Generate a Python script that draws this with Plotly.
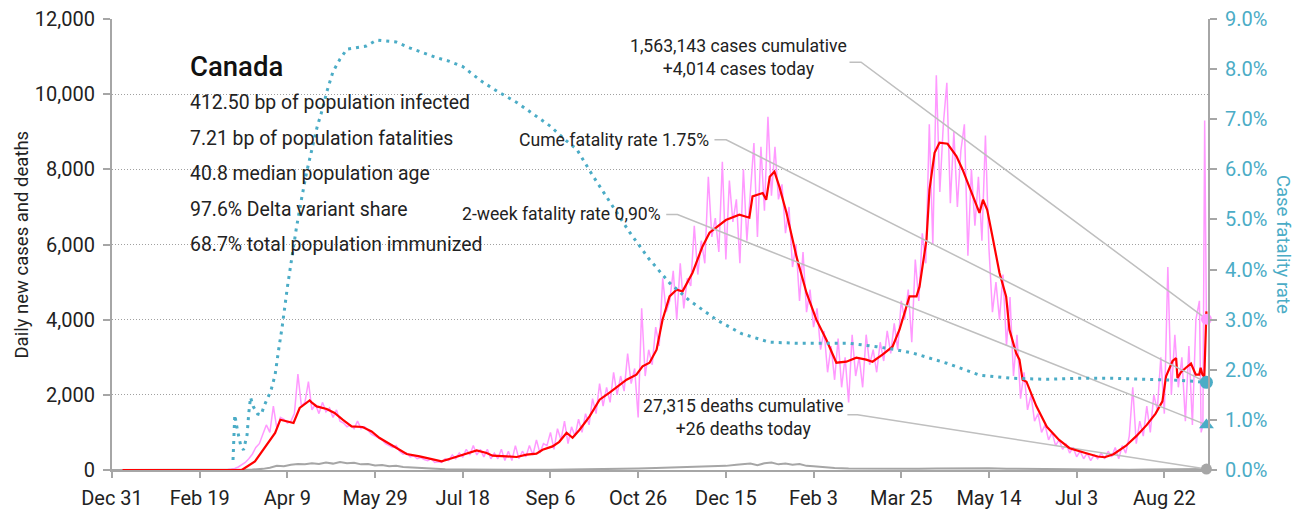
import pandas as pd
import plotly.graph_objects as go

# ---------------------------------------------------------------------------
# Data (days counted from 2019-12-31)
# ---------------------------------------------------------------------------
DAY0 = pd.Timestamp("2019-12-31")

# Daily new cases, every second day, then the last four days individually
case_days = list(range(0, 621, 2)) + [621, 622, 623, 624]
daily_cases = [
    0, 0, 0, 0, 0, 0, 0, 0, 0, 0, 0, 0, 0, 1, 0, 0, 0, 0, 1, 0, 0, 0, 0, 0, 0, 0, 1, 2, 1, 3,
    4, 6, 10, 15, 25, 40, 80, 130, 200, 300, 420, 600, 700, 950, 1200, 1000, 1700, 1100, 1400, 1350,
    1250, 1300, 1500, 2550, 1700, 1800, 2350, 1600, 1750, 1500,
    1800, 1550, 1650, 1400, 1600, 1300, 1250, 1150, 1200, 1100,
    1300, 1100, 1150, 1050, 950, 900, 850, 800, 700, 650,
    600, 650, 500, 420, 450, 350, 380, 300, 330, 280,
    250, 300, 200, 220, 200, 300, 250, 400, 300, 450,
    350, 550, 400, 650, 400, 550, 350, 550, 300, 450,
    300, 550, 250, 500, 250, 650, 300, 500, 350, 650,
    400, 800, 450, 700, 650, 1000, 550, 1100, 800, 1300,
    700, 1150, 900, 1350, 1000, 1500, 1200, 1900, 1500, 2300,
    1700, 2200, 1800, 2600, 2000, 2500, 2100, 3100, 2300, 2700,
    1400, 4300, 2500, 3200, 2800, 3800, 3300, 5100, 4200, 4500,
    5300, 4000, 5500, 4300, 5100, 4900, 6500, 5200, 6100, 5500,
    7800, 6200, 6700, 5800, 8200, 5600, 7700, 6600, 7200, 5500,
    8000, 6100, 7500, 8700, 6200, 8600, 6900, 9400, 7300, 8600,
    7200, 7600, 6300, 7000, 5400, 6000, 4500, 5800, 4200, 4800,
    3800, 4300, 3200, 3700, 2600, 3300, 2400, 3500, 2200, 3000,
    1800, 3600, 2500, 3000, 2200, 3600, 2800, 3200, 2600, 3400,
    2900, 3700, 3100, 3900, 3200, 4500, 4000, 4800, 3400, 5600,
    4500, 6300, 5500, 9200, 6000, 10500, 7400, 9200, 10300, 7100,
    9000, 7000, 8500, 9200, 5700, 8000, 6500, 7800, 6100, 8900,
    5900, 4200, 5000, 4000, 5200, 3300, 4600, 2500, 3600, 1900,
    2600, 1600, 2000, 1300, 1500, 1000, 1200, 800, 1000, 650,
    800, 550, 700, 450, 600, 350, 500, 300, 450, 250,
    400, 300, 450, 300, 500, 350, 600, 300, 650, 450,
    900, 2200, 700, 1300, 900, 1700, 1000, 2000, 1600, 3000,
    1500, 5400, 2000, 3600, 2200, 3000, 1300, 3300, 1200, 4000,
    4500, 1000, 1200, 9300, 4014,
]

# 7-day average of new cases
avg_days = [
    6, 74, 81.5, 87, 93, 96, 100.5, 103.5, 107, 112.7, 113.8, 116.7, 122.4, 126.9, 131.5,
    136.6, 142.9, 148, 152.6, 160, 168, 175.4, 182.8, 187.9, 194.2, 202.2, 207.9, 213.6,
    217, 225, 230.7, 236.4, 242, 245.5, 251.2, 255, 259.2, 262.6, 266.6, 272.3, 278, 283.7,
    289.4, 293.4, 299, 302.5, 306.5, 310.5, 313.9, 317.9, 321.9, 325.3, 331, 336.7, 340.7,
    346.4, 350, 357.7, 363.4, 365.2, 371, 373, 375, 377.7, 380.5, 384.6, 390.3, 396, 401.6,
    407.3, 413, 418.7, 424.4, 430, 433.6, 439.3, 445, 449, 454.7, 458.7, 460.4, 464.4,
    466.1, 469, 471.8, 476.4, 481.5, 485, 487.2, 490.7, 494.6, 496.6, 499, 502, 506, 509.8,
    511.7, 515.5, 517.4, 519.2, 521.4, 527, 533, 540, 546, 556, 562, 566, 571, 578, 584,
    590, 595, 598.9, 601, 604.7, 606.7, 607.5, 609.5, 612.3, 615.2, 617.9, 619.9, 620.7,
    621.7, 622.8, 624,
]
avg_cases = [
    0, 0, 229, 585, 985, 1338, 1293, 1250, 1650, 1852, 1800, 1692, 1623, 1516, 1338,
    1160, 1144, 1027, 852, 647, 426, 362, 274, 229, 319, 434, 522, 452,
    381, 362, 346, 407, 434, 540, 628, 750, 992, 859, 1072, 1426, 1871, 2057,
    2270, 2403, 2536, 2757, 2855, 3201, 4000, 4620, 4798, 4753, 5250, 5950, 6314,
    6527, 6650, 6793, 6713, 7281, 7370, 7190, 7800, 7940, 7540, 6840, 5670, 4710, 4000,
    3467, 2855, 2882, 2990, 2935, 2882, 3068, 3280, 3733, 4620, 4620, 4878, 6130,
    7460, 8440, 8710, 8680, 8345, 7990, 7725, 7280, 6840, 7190, 6925, 6215, 5250, 4620,
    3730, 3110, 2935, 2400, 2350, 1700, 1150, 800, 580, 440, 360, 340, 420, 640, 900,
    1200, 1500, 1826, 2490, 2900, 2980, 2450, 2600, 2720, 2830, 2540, 2540, 2720,
    2540, 2480, 4220,
]

# Daily deaths
death_days = [
    0, 60, 72, 80, 86, 90, 94, 98, 102, 106, 110, 114, 118, 122, 126, 130, 134, 138, 142,
    146, 150, 154, 158, 162, 166, 170, 174, 178, 184, 190, 200, 210, 220, 230, 240, 250,
    260, 270, 280, 290, 300, 310, 320, 330, 340, 346, 350, 356, 360, 364, 368, 372, 376,
    380, 384, 388, 392, 396, 400, 404, 408, 412, 420, 430, 440, 450, 460, 470, 480, 490,
    500, 510, 520, 530, 540, 550, 560, 570, 580, 590, 600, 610, 618, 624,
]
daily_deaths = [
    0, 0, 2, 10, 30, 60, 110, 100, 140, 160, 150, 180, 160, 200, 170, 210, 180, 190, 150,
    160, 120, 130, 100, 110, 80, 70, 50, 45, 30, 20, 12, 8, 6, 5, 6, 8,
    10, 15, 22, 30, 40, 55, 70, 90, 100, 120, 110, 140, 150, 170, 130, 180, 200,
    150, 170, 140, 160, 110, 100, 80, 70, 50, 40, 35, 30, 30, 35, 40, 45, 40,
    45, 35, 30, 20, 15, 10, 6, 5, 8, 12, 20, 25, 30, 26,
]

# Case fatality rate (%)
cfr_days = [
    69, 70, 71.5, 73.5, 75, 77, 78, 79, 80.5, 83, 85, 87, 90.5, 93, 95, 97, 100, 102.5,
    105, 108, 111, 114, 117, 120, 122.5, 126, 130, 134, 141, 145, 151, 157, 162, 170,
    177, 185, 192, 200, 211, 220, 231, 240, 250, 258, 265, 274, 284, 295, 306, 318, 329,
    345, 359, 375, 390, 405, 420, 436, 447, 457, 476, 495, 513, 533, 551, 570, 590, 609,
    624,
]
cfr_pct = [
    0.2, 1.1, 0.8, 0.47, 0.4, 0.7, 1.14, 1.45, 1.27, 1.12, 1.1, 1.3, 1.57, 1.9, 2.4,
    2.85, 3.65, 4.25, 4.8, 5.4, 5.95, 6.4, 6.85, 7.2, 7.55, 7.95, 8.2, 8.4, 8.43, 8.46,
    8.58, 8.55, 8.54, 8.42, 8.33, 8.23, 8.16, 8.05, 7.75, 7.55, 7.33, 7.1, 6.86, 6.6,
    6.4, 5.88, 5.33, 4.75, 4.22, 3.73, 3.39, 2.99, 2.72, 2.55, 2.53, 2.53, 2.53, 2.46,
    2.4, 2.33, 2.13, 1.89, 1.83, 1.81, 1.83, 1.83, 1.81, 1.79, 1.75,
]

cases_today = 4014
deaths_today = 26
cume_fatality = 1.75
two_week_fatality = 0.90

tick_dates = [
    "2019-12-31", "2020-02-19", "2020-04-09", "2020-05-29", "2020-07-18", "2020-09-06",
    "2020-10-26", "2020-12-15", "2021-02-03", "2021-03-25", "2021-05-14", "2021-07-03",
    "2021-08-22",
]
tick_labels = [
    "Dec 31", "Feb 19", "Apr 9", "May 29", "Jul 18", "Sep 6", "Oct 26", "Dec 15",
    "Feb 3", "Mar 25", "May 14", "Jul 3", "Aug 22",
]

info_title = "Canada"
info_lines = [
    "412.50 bp of population infected",
    "7.21 bp of population fatalities",
    "40.8 median population age",
    "97.6% Delta variant share",
    "68.7% total population immunized",
]


def to_date(days):
    return [DAY0 + pd.Timedelta(days=float(d)) for d in days]


FONT = "Roboto, sans-serif"
PINK = "#ff99ff"
RED = "#ff0000"
CYAN = "#4bacc6"
GREY = "#a6a6a6"
LEADER = "#bfbfbf"

last_day = case_days[-1]
last_date = DAY0 + pd.Timedelta(days=last_day)

fig = go.Figure()

fig.add_trace(go.Scatter(x=to_date(case_days), y=daily_cases, mode="lines",
                         line=dict(color=PINK, width=1.5), hoverinfo="skip"))
fig.add_trace(go.Scatter(x=to_date(death_days), y=daily_deaths, mode="lines",
                         line=dict(color=GREY, width=2), hoverinfo="skip"))


# Leader lines from the call-out labels to the latest values
def leader(start_day, start_val, knee_day, end_val, axis):
    fig.add_trace(go.Scatter(
        x=to_date([start_day, knee_day, last_day]),
        y=[start_val, start_val, end_val], mode="lines", yaxis=axis,
        line=dict(color=LEADER, width=1.5), hoverinfo="skip"))


leader(420.5, 10850, 427.1, cases_today, "y")
leader(343.5, 6.59, 350.2, cume_fatality, "y2")
leader(316.0, 5.10, 322.4, two_week_fatality, "y2")
leader(419.3, 1471, 425.0, deaths_today, "y")

fig.add_trace(go.Scatter(x=to_date(avg_days), y=avg_cases, mode="lines",
                         line=dict(color=RED, width=2.2), hoverinfo="skip"))
fig.add_trace(go.Scatter(x=to_date(cfr_days), y=cfr_pct, mode="lines", yaxis="y2",
                         line=dict(color=CYAN, width=3, dash="3px,5px"), hoverinfo="skip"))

# End-point markers
fig.add_trace(go.Scatter(x=[last_date], y=[cases_today], mode="markers", cliponaxis=False,
                         marker=dict(color=PINK, size=11), hoverinfo="skip"))
fig.add_trace(go.Scatter(x=[last_date], y=[deaths_today], mode="markers", cliponaxis=False,
                         marker=dict(color=GREY, size=11), hoverinfo="skip"))
fig.add_trace(go.Scatter(x=[last_date], y=[cume_fatality], mode="markers", yaxis="y2",
                         cliponaxis=False, marker=dict(color=CYAN, size=13),
                         hoverinfo="skip"))
fig.add_trace(go.Scatter(x=[last_date], y=[two_week_fatality], mode="markers", yaxis="y2",
                         cliponaxis=False,
                         marker=dict(color=CYAN, size=13, symbol="triangle-up"),
                         hoverinfo="skip"))

annotations = []
annotations.append(dict(xref="paper", yref="paper", x=0.069, y=0.894, xanchor="left",
                        yanchor="middle", text=info_title, showarrow=False,
                        font=dict(family=FONT, size=27.5, color="#111", weight=500)))
for i, line in enumerate(info_lines):
    annotations.append(dict(xref="paper", yref="paper", x=0.069, y=0.814 - i * 0.0785,
                            xanchor="left", yanchor="middle", text=line, showarrow=False,
                            font=dict(family=FONT, size=19.4, color="#222")))

note_font = dict(family=FONT, size=17.6, color="#222")
annotations += [
    dict(x=DAY0 + pd.Timedelta(days=357), y=10970, xref="x", yref="y",
         text="1,563,143 cases cumulative<br>+4,014 cases today", showarrow=False,
         xanchor="center", yanchor="middle", align="center", font=note_font),
    dict(x=DAY0 + pd.Timedelta(days=341.7), y=6.59, xref="x", yref="y2",
         text="Cume fatality rate 1.75%", showarrow=False, xanchor="right",
         yanchor="middle", font=note_font),
    dict(x=DAY0 + pd.Timedelta(days=314.4), y=5.10, xref="x", yref="y2",
         text="2-week fatality rate 0,90%", showarrow=False, xanchor="right",
         yanchor="middle", font=note_font),
    dict(x=DAY0 + pd.Timedelta(days=360), y=1400, xref="x", yref="y",
         text="27,315 deaths cumulative<br>+26 deaths today", showarrow=False,
         xanchor="center", yanchor="middle", align="center", font=note_font),
    dict(xref="paper", yref="paper", x=-0.083, y=0.5, xanchor="center", yanchor="middle",
         text="Daily new cases and deaths", textangle=-90, showarrow=False,
         font=dict(family=FONT, size=18.5, color="#222")),
    dict(xref="paper", yref="paper", x=1.069, y=0.5, xanchor="center", yanchor="middle",
         text="Case fatality rate", textangle=90, showarrow=False,
         font=dict(family=FONT, size=18.5, color=CYAN)),
]

fig.update_layout(
    width=1303, height=512,
    autosize=False,
    margin=dict(l=112, r=95, t=19, b=42, pad=0, autoexpand=False),
    paper_bgcolor="white", plot_bgcolor="white",
    showlegend=False,
    font=dict(family=FONT, size=19, color="#222"),
    annotations=annotations,
    xaxis=dict(
        type="date", automargin=False,
        range=[DAY0, DAY0 + pd.Timedelta(days=624.9)],
        tickvals=tick_dates, ticktext=tick_labels,
        showgrid=False, zeroline=False,
        showline=True, linecolor=GREY, linewidth=2,
        ticks="outside", ticklen=6, tickcolor=GREY, tickwidth=1.5,
        ticklabelstandoff=3,
        tickfont=dict(family=FONT, size=20, color="#222"),
    ),
    yaxis=dict(
        automargin=False,
        range=[0, 12000], tickvals=list(range(0, 12001, 2000)), tickformat=",",
        showgrid=True, gridcolor="#a0a0a0", griddash="1px,2px", gridwidth=1,
        zeroline=False, showline=True, linecolor=GREY, linewidth=2,
        ticks="outside", ticklen=7, tickcolor=GREY, tickwidth=1.5,
        ticklabelstandoff=4,
        tickfont=dict(family=FONT, size=20, color="#222"),
    ),
    yaxis2=dict(
        automargin=False,
        overlaying="y", side="right", range=[0, 9], dtick=1, tickformat=".1f",
        ticksuffix="%", showgrid=False, zeroline=False,
        showline=True, linecolor=GREY, linewidth=2,
        ticks="outside", ticklen=7, tickcolor=GREY, tickwidth=1.5,
        ticklabelstandoff=4,
        tickfont=dict(family=FONT, size=20, color=CYAN),
    ),
)

fig.write_html("out.html", config={"responsive": False})
